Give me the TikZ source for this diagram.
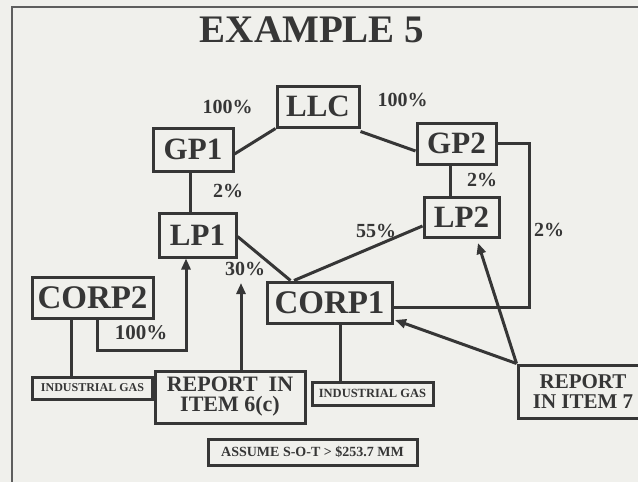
\documentclass[tikz,border=0pt]{standalone}
\usepackage{fontspec}
\setmainfont{Liberation Serif}
\usetikzlibrary{arrows.meta,calc}
\definecolor{ink}{HTML}{363636}
\definecolor{bg}{HTML}{F0F0EC}
\tikzset{
  box/.style={draw=ink, line width=3pt, fill=bg, inner sep=0pt, align=center, text=ink},
  pct/.style={font=\bfseries\fontsize{20}{20}\selectfont, text=ink, inner sep=0pt},
  conn/.style={draw=ink, line width=3pt},
  arr/.style={conn, -{Triangle[length=11pt,width=9pt]}},
  frameline/.style={draw=ink!80, line width=1.6pt}
}
\begin{document}
\begin{tikzpicture}[x=1pt,y=-1pt]
\useasboundingbox (0,0) rectangle (638,482);
\clip (0,0) rectangle (638,482);
\fill[bg] (0,0) rectangle (638,482);
\draw[frameline] (12,482) -- (12,7) -- (640,7);

\node[text=ink, font=\bfseries\fontsize{39}{39}\selectfont, anchor=base] (title) at (312,42) {EXAMPLE 5};

\node[box, minimum width=82pt, minimum height=41pt, font=\bfseries\fontsize{31}{31}\selectfont] (LLC) at (318,106.5) {LLC};
\node[box, minimum width=80pt, minimum height=43pt, font=\bfseries\fontsize{31}{31}\selectfont] (GP1) at (193,149.5) {GP1};
\node[box, minimum width=79pt, minimum height=41pt, font=\bfseries\fontsize{31}{31}\selectfont] (GP2) at (456.5,143.5) {GP2};
\node[box, minimum width=77pt, minimum height=44pt, font=\bfseries\fontsize{31}{31}\selectfont] (LP1) at (197.5,235) {LP1};
\node[box, minimum width=75pt, minimum height=40pt, font=\bfseries\fontsize{31}{31}\selectfont] (LP2) at (461.5,217) {LP2};
\node[box, minimum width=125pt, minimum height=41pt, font=\bfseries\fontsize{33}{33}\selectfont] (CORP1) at (329.5,302.5) {CORP1};
\node[box, minimum width=121pt, minimum height=41pt, font=\bfseries\fontsize{33}{33}\selectfont] (CORP2) at (92.5,297.5) {CORP2};
\node[box, minimum width=120pt, minimum height=22pt, font=\bfseries\fontsize{12}{12}\selectfont] (IG1) at (92.5,388) {INDUSTRIAL GAS};
\node[box, minimum width=121pt, minimum height=23pt, font=\bfseries\fontsize{12.5}{12.5}\selectfont] (IG2) at (372.5,393.5) {INDUSTRIAL GAS};
\node[box, minimum width=150pt, minimum height=52pt, font=\bfseries\fontsize{22}{20}\selectfont] (R6) at (230,397) {REPORT\ \ IN\\ITEM 6(c)};
\node[box, minimum width=130pt, minimum height=53pt, font=\bfseries\fontsize{21}{19.5}\selectfont] (R7) at (583,391.5) {REPORT\\IN ITEM 7};
\node[box, minimum width=209pt, minimum height=26pt, font=\bfseries\fontsize{14}{14}\selectfont] (AS) at (312.5,452) {ASSUME S-O-T > \$253.7 MM};

% percentage labels
\node[pct] (p1) at (227.5,107) {100\%};
\node[pct] (p2) at (402.5,100) {100\%};
\node[pct] (p3) at (228,191) {2\%};
\node[pct] (p4) at (482,180) {2\%};
\node[pct] (p5) at (549,230) {2\%};
\node[pct] (p6) at (376,231) {55\%};
\node[pct] (p7) at (245,269) {30\%};
\node[pct, font=\bfseries\fontsize{21}{21}\selectfont] (p8) at (141,333) {100\%};

% connectors
\draw[conn] (LLC.south west) -- ([yshift=-4.5pt]GP1.east);
\draw[conn] ([yshift=-3pt]LLC.south east) -- ([yshift=-7.5pt]GP2.west);
\draw[conn] ([xshift=-3pt]GP1.south) -- ([xshift=-3pt]GP1.south |- LP1.north);
\draw[conn] ([xshift=-6.5pt]GP2.south) -- ([xshift=-6.5pt]GP2.south |- LP2.north);
\coordinate (gpc) at (529,307);
\draw[conn] (GP2.east) -| (gpc) -- ([yshift=-4.5pt]CORP1.east);
\draw[conn] ([yshift=-1.5pt]LP1.east) -- ([xshift=25pt]CORP1.north west);
\draw[conn] ([xshift=28.5pt]CORP1.north west) -- ([yshift=-9pt]LP2.west);
\draw[conn] ([xshift=-21.5pt]CORP2.south) -- ([xshift=-21.5pt]CORP2.south |- IG1.north);
\coordinate (c2a) at (97,350);
\draw[arr] ([xshift=4.5pt]CORP2.south) -- (c2a) -| ([xshift=-11.5pt]LP1.south);
\coordinate (t30) at (241,283);
\draw[arr] ([xshift=11pt]R6.north) -- (t30);
\draw[conn] ([xshift=10.5pt]CORP1.south) -- ([xshift=10.5pt]CORP1.south |- IG2.north);
\coordinate (tlp2) at (478,243);
\draw[arr] (R7.north west) -- (tlp2);
\coordinate (tc1) at (395,320);
\draw[arr] (R7.north west) -- (tc1);
\end{tikzpicture}
\end{document}
